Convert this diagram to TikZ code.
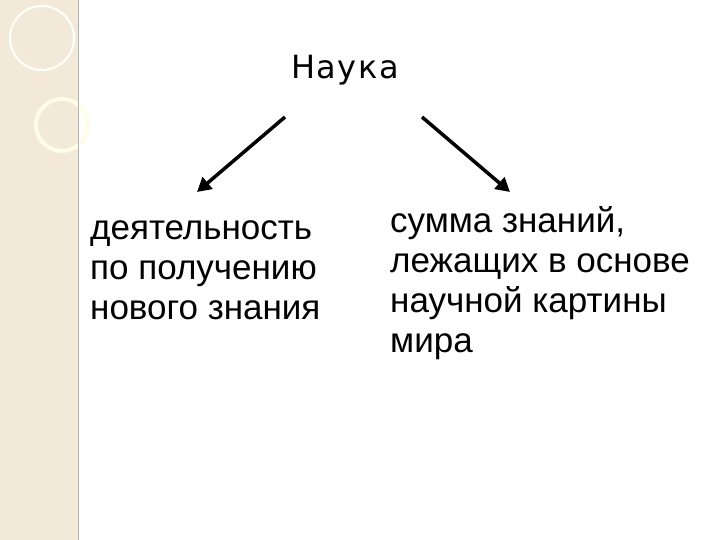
\documentclass[tikz,border=0pt]{standalone}
\usepackage{fontspec}
\setmainfont{Liberation Sans}
\newfontfamily\naukafont[LetterSpace=5]{DejaVu Sans}
\usetikzlibrary{arrows.meta}
\begin{document}
\begin{tikzpicture}[x=1pt,y=-1pt,
  txt/.style={anchor=north west,align=left,font=\fontsize{35}{40}\selectfont,inner sep=0pt},
  arr/.style={line width=3.5pt,-{Triangle[length=14pt,width=15pt]}}]
\useasboundingbox (0,0) rectangle (720,540);
\fill[white] (0,0) rectangle (720,540);
\fill[yellow!15!orange!10!white!95!black] (0,0) rectangle (78,540);
\draw[white!85!yellow!10,line width=2pt] (42,38) circle (32);
\draw[black!5!yellow!10!white,line width=4pt] (62,125) circle (26);
\draw[gray!60,line width=1pt] (78,0) -- (78,540);
\node[font=\naukafont\fontsize{32}{36}\selectfont] (n) at (345,70) {Наука};
\coordinate (l0) at (285,117); \coordinate (l1) at (197,192);
\coordinate (r0) at (422,117); \coordinate (r1) at (510,192);
\draw[arr] (l0) -- (l1);
\draw[arr] (r0) -- (r1);
\node[txt] (a) at (90,220) {деятельность\\по получению\\нового знания};
\node[txt] (b) at (390,206) {сумма знаний,\\лежащих в основе\\научной картины\\мира};
\end{tikzpicture}
\end{document}
